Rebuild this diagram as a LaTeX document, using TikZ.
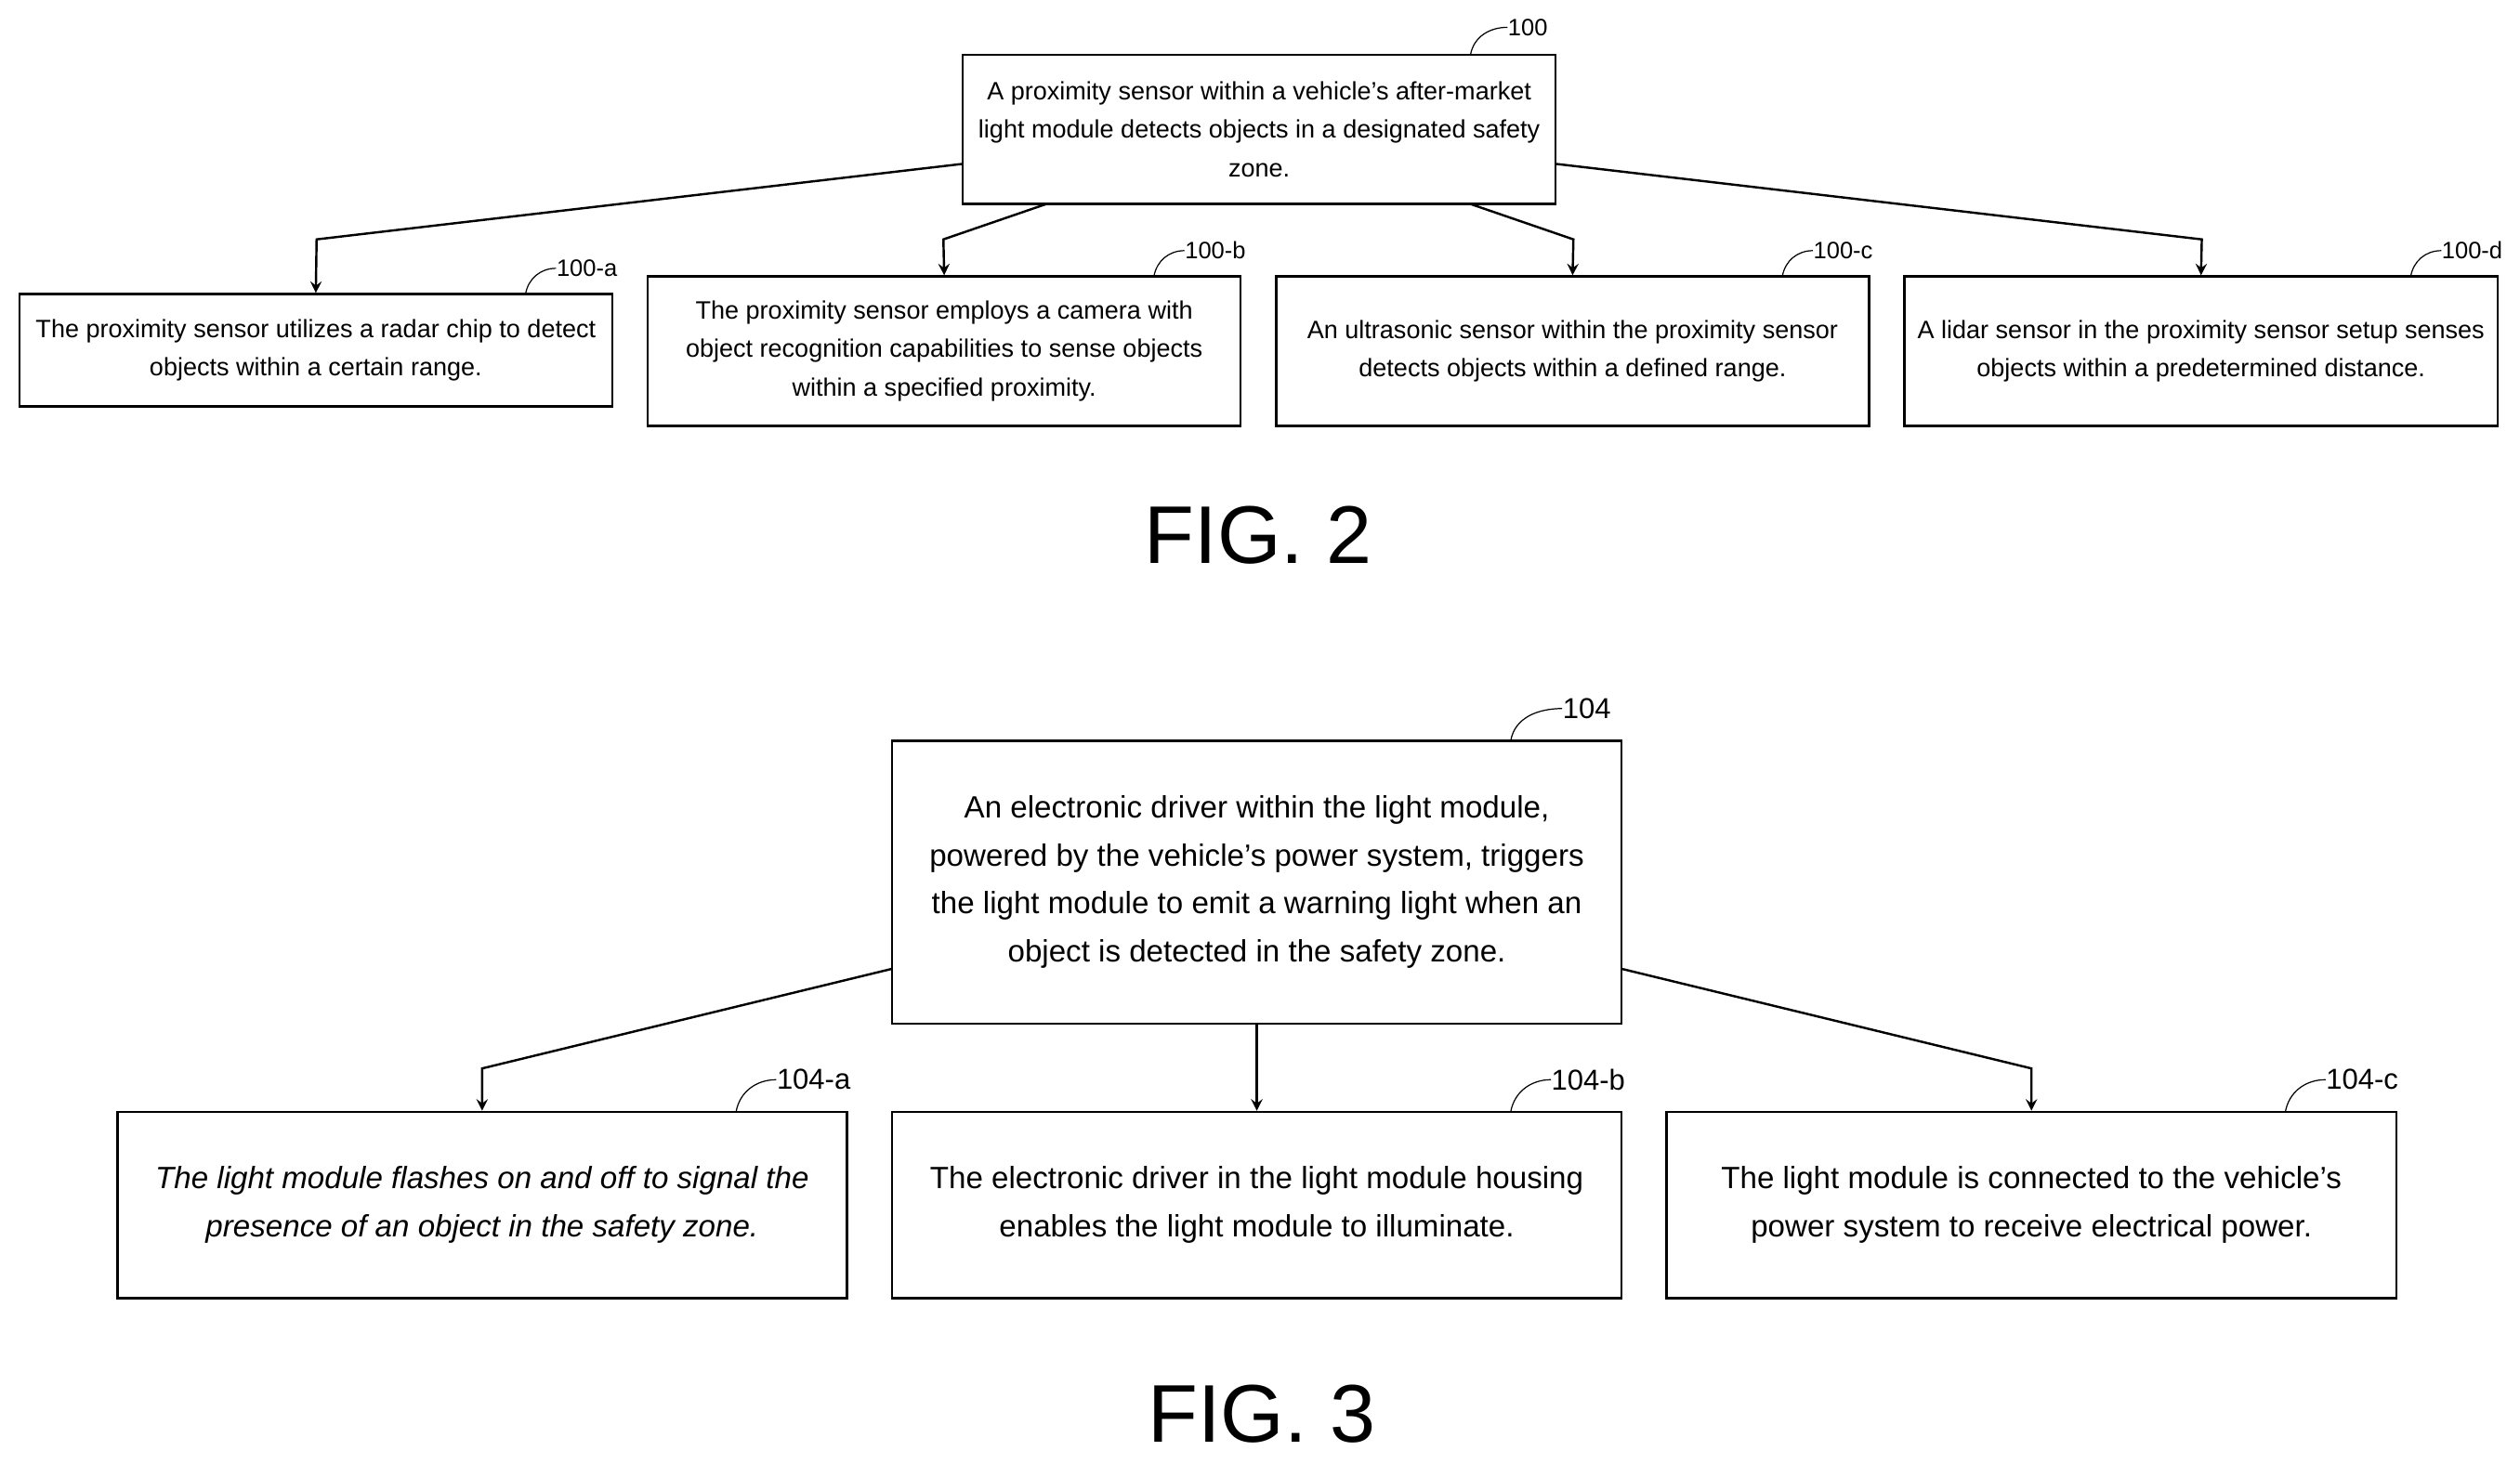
\documentclass[tikz,border=0pt]{standalone}
\usepackage{fontspec}
\setmainfont{Liberation Sans}
\usetikzlibrary{arrows}
\tikzset{
  box/.style={draw,thick,rectangle,inner sep=0pt,align=center},
  smallbox/.style={box,minimum width=7.38cm,font=\fontsize{8.9}{13.6}\selectfont},
  bigbox/.style={box,minimum width=9.08cm,font=\fontsize{10.9}{17}\selectfont},
  tag/.style={font=\fontsize{8.4}{9}\selectfont,inner sep=0pt,anchor=west},
  link/.style={thick,-stealth},
  lead/.style={thin}
}
\begin{document}
\begin{tikzpicture}[x=0.02cm,y=-0.02cm]
  % Boundary
  \path[use as bounding box] (0,0) rectangle (1568,911);
  % FIG. 2 boxes
  \node[smallbox,minimum height=1.86cm] (s) at (783.5,80.5) {A proximity sensor within a vehicle's after-market\\light module detects objects in a designated safety\\zone.};
  \node[smallbox,minimum height=1.40cm] (sa) at (196.5,218) {The proximity sensor utilizes a radar chip to detect\\objects within a certain range.};
  \node[smallbox,minimum height=1.86cm] (sb) at (587.5,218.5) {The proximity sensor employs a camera with\\object recognition capabilities to sense objects\\within a specified proximity.};
  \node[smallbox,minimum height=1.86cm] (sc) at (978.5,218.5) {An ultrasonic sensor within the proximity sensor\\detects objects within a defined range.};
  \node[smallbox,minimum height=1.86cm] (sd) at (1369.5,218.5) {A lidar sensor in the proximity sensor setup senses\\objects within a predetermined distance.};
  % FIG. 2 connectors
  \draw[link] (599,102) -- (197,149) -- (sa.north);
  \draw[link] (651,127) -- (587,149) -- (sb.north);
  \draw[link] (915,127) -- (979,149) -- (sc.north);
  \draw[link] (968,102) -- (1370,149) -- (sd.north);
  % FIG. 2 tags
  \node[tag] (ts) at (938,17) {100};
  \node[tag] (tsa) at (346,167) {100-a};
  \node[tag] (tsb) at (737,156) {100-b};
  \node[tag] (tsc) at (1128,156) {100-c};
  \node[tag] (tsd) at (1519,156) {100-d};
  \draw[lead] (915,34) to[out=80,in=180] (ts.west);
  \draw[lead] (327,183) to[out=80,in=180] (tsa.west);
  \draw[lead] (718,172) to[out=80,in=180] (tsb.west);
  \draw[lead] (1109,172) to[out=80,in=180] (tsc.west);
  \draw[lead] (1500,172) to[out=80,in=180] (tsd.west);
  \node[font=\fontsize{29}{32}\selectfont] (f2) at (783,333) {FIG. 2};
  % FIG. 3 boxes
  \node[bigbox,minimum height=3.52cm] (d) at (782,549) {An electronic driver within the light module,\\powered by the vehicle's power system, triggers\\the light module to emit a warning light when an\\object is detected in the safety zone.};
  \node[bigbox,minimum height=2.32cm,font=\fontsize{10.9}{17}\selectfont\itshape] (da) at (300,750) {The light module flashes on and off to signal the\\presence of an object in the safety zone.};
  \node[bigbox,minimum height=2.32cm] (db) at (782,750) {The electronic driver in the light module housing\\enables the light module to illuminate.};
  \node[bigbox,minimum height=2.32cm] (dc) at (1264,750) {The light module is connected to the vehicle's\\power system to receive electrical power.};
  % FIG. 3 connectors
  \draw[link] (555,603) -- (300,665) -- (da.north);
  \draw[link] (d.south) -- (db.north);
  \draw[link] (1009,603) -- (1264,665) -- (dc.north);
  % FIG. 3 tags
  \node[tag,font=\fontsize{10.2}{11}\selectfont] (td) at (972,441) {104};
  \node[tag,font=\fontsize{10.2}{11}\selectfont] (tda) at (483,672) {104-a};
  \node[tag,font=\fontsize{10.2}{11}\selectfont] (tdb) at (965,672) {104-b};
  \node[tag,font=\fontsize{10.2}{11}\selectfont] (tdc) at (1447,672) {104-c};
  \draw[lead] (940,461) to[out=80,in=180] (td.west);
  \draw[lead] (458,692) to[out=80,in=180] (tda.west);
  \draw[lead] (940,692) to[out=80,in=180] (tdb.west);
  \draw[lead] (1422,692) to[out=80,in=180] (tdc.west);
  \node[font=\fontsize{29}{32}\selectfont] (f3) at (785,880) {FIG. 3};
\end{tikzpicture}
\end{document}
